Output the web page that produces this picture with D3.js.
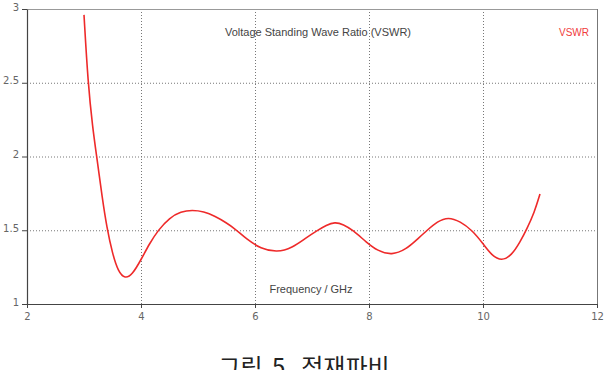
<!DOCTYPE html>
<html>
<head>
<meta charset="utf-8">
<script src="https://cdn.jsdelivr.net/npm/d3@7"></script>
<style>
	body { margin: 0; background: #fff; }
	svg { display: block; }
</style>
</head>
<body>
<svg id="chart" width="608" height="370"></svg>
<script>
// Data
var freq = [3.0, 3.07, 3.15, 3.23, 3.32, 3.4, 3.5, 3.6, 3.72, 3.85, 4.0, 4.15, 4.3, 4.5, 4.7, 4.9, 5.1, 5.3, 5.5, 5.65, 5.85, 6.1, 6.39, 6.65, 6.9, 7.1, 7.25, 7.4, 7.55, 7.72, 7.95, 8.15, 8.4, 8.65, 8.85, 9.02, 9.2, 9.39, 9.6, 9.81, 10.0, 10.15, 10.33, 10.5, 10.65, 10.77, 10.9, 11.0]
var vswr = [2.96, 2.5, 2.2, 1.98, 1.72, 1.52, 1.34, 1.22, 1.17, 1.2, 1.3, 1.41, 1.5, 1.585, 1.627, 1.637, 1.627, 1.595, 1.55, 1.51, 1.44, 1.375, 1.35, 1.38, 1.45, 1.5, 1.535, 1.556, 1.54, 1.5, 1.42, 1.36, 1.33, 1.37, 1.44, 1.5, 1.56, 1.59, 1.56, 1.5, 1.41, 1.33, 1.29, 1.33, 1.42, 1.51, 1.62, 1.746]
var xTicks = [2, 4, 6, 8, 10, 12]
var yTicks = [1, 1.5, 2, 2.5, 3]

var svg = d3.select('#chart')
var plotLeft = 27, plotRight = 597, plotTop = 9, plotBottom = 304

var x = d3.scaleLinear().domain([2, 12]).range([plotLeft, plotRight])
var y = d3.scaleLinear().domain([1, 3]).range([plotBottom, plotTop])

// grid
svg.append('g')
	.selectAll('line')
	.data(xTicks.slice(1, -1))
	.join('line')
	.attr('x1', (d) => x(d) + 0.5).attr('x2', (d) => x(d) + 0.5)
	.attr('y1', plotTop).attr('y2', plotBottom)
	.attr('stroke', '#777')
	.attr('stroke-dasharray', '1,2')

svg.append('g')
	.selectAll('line')
	.data(yTicks.slice(1, -1))
	.join('line')
	.attr('x1', plotLeft).attr('x2', plotRight)
	.attr('y1', (d) => y(d) + 0.5).attr('y2', (d) => y(d) + 0.5)
	.attr('stroke', '#777')
	.attr('stroke-dasharray', '1,2')

// frame: top and right lighter
svg.append('line').attr('x1', plotLeft).attr('x2', plotRight).attr('y1', plotTop + 0.5).attr('y2', plotTop + 0.5).attr('stroke', '#999')
svg.append('line').attr('x1', plotRight + 0.5).attr('x2', plotRight + 0.5).attr('y1', plotTop).attr('y2', plotBottom).attr('stroke', '#777')

// axes
var xAxis = d3.axisBottom(x).tickValues(xTicks).tickSize(4).tickSizeOuter(0).tickFormat(d3.format('d'))
var yAxis = d3.axisLeft(y).tickValues(yTicks).tickSize(5).tickSizeOuter(0).tickFormat((d) => String(d))

var gx = svg.append('g').attr('transform', 'translate(0,' + plotBottom + ')').call(xAxis)
var gy = svg.append('g').attr('transform', 'translate(' + plotLeft + ',0)').call(yAxis)

;[gx, gy].forEach(function (g) {
	g.select('.domain').attr('stroke', '#444').attr('stroke-width', 1.2)
	g.selectAll('.tick line').attr('stroke', '#444')
	g.selectAll('.tick text')
		.attr('fill', '#666')
		.style('font-family', 'DejaVu Sans, sans-serif')
		.style('font-size', '10px')
})
gx.selectAll('.tick text').attr('dy', '0.9em')
gy.selectAll('.tick text').attr('x', -8).attr('dy', '0.1em')

// curve
var points = freq.map((f, i) => [f, vswr[i]])
var line = d3.line()
	.x((d) => x(d[0]))
	.y((d) => y(d[1]))
	.curve(d3.curveBasis)

svg.append('path')
	.datum(points)
	.attr('d', line)
	.attr('fill', 'none')
	.attr('stroke', '#ee2a2a')
	.attr('stroke-width', 1.6)

// labels
svg.append('text')
	.attr('x', 318).attr('y', 36)
	.attr('text-anchor', 'middle')
	.attr('fill', '#444')
	.style('font-family', 'Liberation Sans, sans-serif')
	.style('font-size', '11px')
	.text('Voltage Standing Wave Ratio (VSWR)')

svg.append('text')
	.attr('x', 589).attr('y', 36)
	.attr('text-anchor', 'end')
	.attr('fill', '#f03c3c')
	.style('font-family', 'Liberation Sans, sans-serif')
	.style('font-size', '10px')
	.text('VSWR')

svg.append('text')
	.attr('x', 311).attr('y', 293)
	.attr('text-anchor', 'middle')
	.attr('fill', '#444')
	.style('font-family', 'Liberation Sans, sans-serif')
	.style('font-size', '11px')
	.text('Frequency / GHz')

svg.append('text')
	.attr('x', 304).attr('y', 376)
	.attr('text-anchor', 'middle')
	.attr('fill', '#222')
	.style('font-family', 'Noto Sans CJK KR, sans-serif')
	.style('font-size', '24px')
	.style('word-spacing', '4px')
	.text('그림 5. 정재파비')
</script>
</body>
</html>
